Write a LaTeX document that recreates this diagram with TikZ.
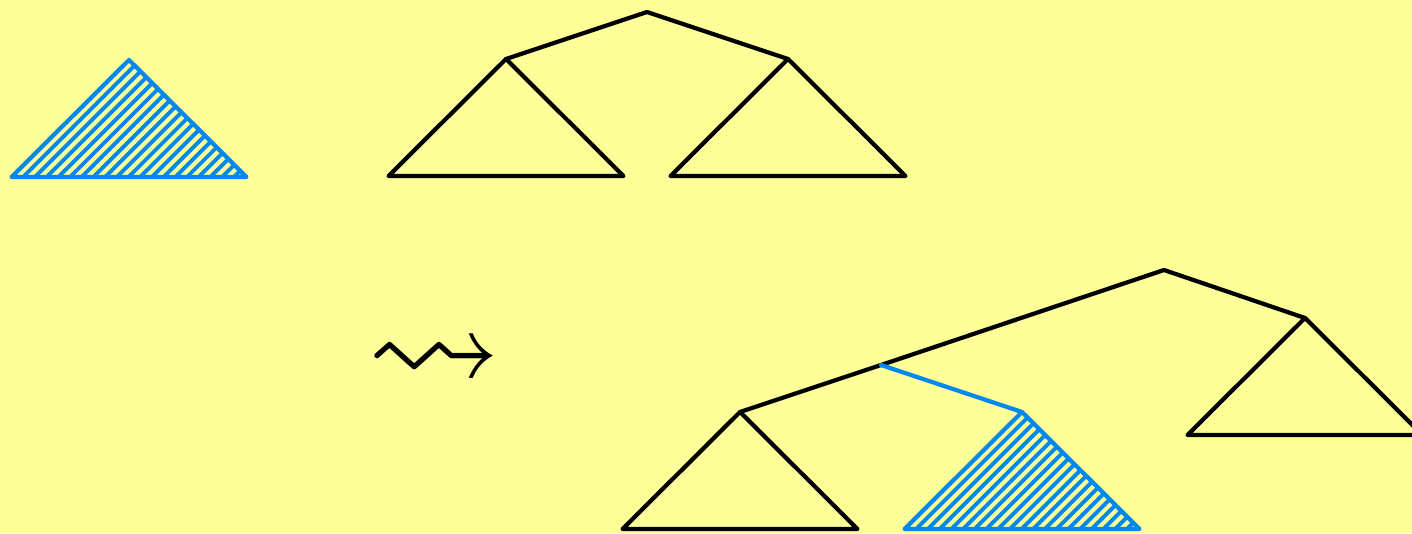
\documentclass[tikz,border=0pt]{standalone}
\usepackage{amssymb}
\usetikzlibrary{calc}
\definecolor{trbg}{HTML}{FFFF99}
\definecolor{trink}{HTML}{000000}
\definecolor{trblue}{HTML}{0088EE}
\tikzset{
  trline/.style={draw=trink, line width=1.2pt, line join=round},
  trnew/.style={draw=trblue, line width=1.2pt, line join=round},
  trhatch/.style={draw=trblue, line width=1.1pt},
  every picture/.style={line cap=round},
}

\begin{document}
\begin{tikzpicture}[x=0.01cm, y=-0.01cm]

% Background and frame.
\fill[trbg] (0, 0) rectangle (1412, 533);
\useasboundingbox (0, 0) rectangle (1412, 533);

% Tree points: apex of each subtree and the ends of its base.
\coordinate (r0) at (647, 12);
\foreach \n/\x/\y in {h0/129/60, a/506/59, b/788/59,
                      c/1305/318, d/740/412, h1/1022/412} {
  \coordinate (\n) at (\x, \y);
  \coordinate (\n l) at (\x - 117.5, \y + 117);
  \coordinate (\n r) at (\x + 117.5, \y + 117);
}
\coordinate (r1) at (1164, 270);
\coordinate (m1) at (881, 365);

% Hatched subtrees: the inserted one and its copy.
\foreach \h in {h0, h1} {
  \begin{scope}
    \clip (\h) -- (\h l) -- (\h r) -- cycle;
    \foreach \i in {0,...,20}
      \draw[trhatch] ($(\h l) + (\i * 11.7, 0)$) -- ++(140, -140);
  \end{scope}
  \draw[trnew] (\h) -- (\h l) -- (\h r) -- cycle;
}

% Plain subtrees.
\foreach \t in {a, b, c, d}
  \draw[trline] (\t) -- (\t l) -- (\t r) -- (\t);

% Upper tree.
\draw[trline] (a) -- (r0) -- (b);

% Lower tree after the step.
\draw[trline] (d) -- (m1) -- (r1) -- (c);
\draw[trnew] (m1) -- (h1);

% Step sign.
\node[inner sep=0pt, text=trink] (step1) at (434, 364)
  {\fontsize{38}{42}\selectfont$\leadsto$};

\end{tikzpicture}
\end{document}
